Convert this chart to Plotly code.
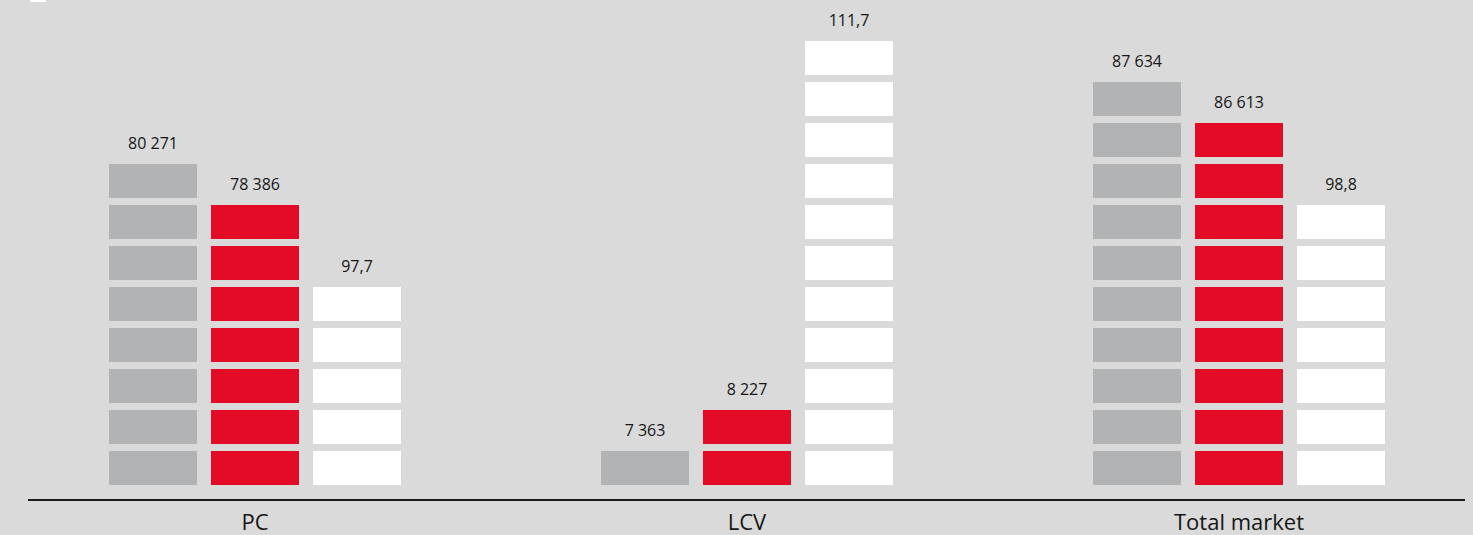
import plotly.graph_objects as go

# ---- data ----
categories = ["PC", "LCV", "Total market"]
sales_prev = [80271, 7363, 87634]          # grey bars
sales_curr = [78386, 8227, 86613]          # red bars
ratio_pct = [97.7, 111.7, 98.8]            # white bars
blocks_prev = [8, 1, 10]                   # number of stacked blocks drawn
blocks_curr = [7, 2, 9]
blocks_ratio = [5, 11, 7]
label_prev = ["80 271", "7 363", "87 634"]
label_curr = ["78 386", "8 227", "86 613"]
label_ratio = ["97,7", "111,7", "98,8"]

# ---- style ----
BG = "#d9dad9"
GREY = "#b2b3b4"
RED = "#e30b25"
WHITE = "#ffffff"
TXT = "#161616"
FONT = "Open Sans"

BASE0 = 14 / 41        # gap between axis line and first block (in block units)
BLOCK_H = 34 / 41      # block height (pitch = 1)
OFFSET = 102 / 492
WIDTH = 88 / 492
LABEL_GAP = 19 / 41

series = [
    (blocks_prev, label_prev, GREY, -OFFSET, "prev"),
    (blocks_curr, label_curr, RED, 0.0, "curr"),
    (blocks_ratio, label_ratio, WHITE, OFFSET, "ratio"),
]

fig = go.Figure()
for counts, labels, color, off, name in series:
    xs, bases = [], []
    for ci, n in enumerate(counts):
        for k in range(n):
            xs.append(ci + off)
            bases.append(BASE0 + k)
    fig.add_trace(go.Bar(
        x=xs, y=[BLOCK_H] * len(xs), base=bases, width=WIDTH,
        marker=dict(color=color, line=dict(width=0)),
        name=name, showlegend=False, hoverinfo="skip",
    ))
    fig.add_trace(go.Scatter(
        x=[ci + off for ci in range(len(counts))],
        y=[BASE0 + (n - 1) + BLOCK_H + LABEL_GAP for n in counts],
        mode="text", text=labels, textposition="middle center",
        textfont=dict(family=FONT, size=16, color=TXT),
        showlegend=False, hoverinfo="skip",
    ))

fig.update_layout(
    width=1473, height=535,
    margin=dict(l=28, r=8, t=0, b=36),
    paper_bgcolor=BG, plot_bgcolor=BG,
    barmode="overlay",
    xaxis=dict(
        range=[(28 - 255) / 492, (1465 - 255) / 492],
        tickvals=list(range(len(categories))), ticktext=categories,
        tickfont=dict(family=FONT, size=22, color=TXT),
        ticklabelstandoff=3,
        showline=True, linecolor="#1a1a1a", linewidth=1.5,
        showgrid=False, zeroline=False, ticks="", ticklen=0,
    ),
    yaxis=dict(range=[0, 499 / 41], visible=False, showgrid=False, zeroline=False),
    showlegend=False,
)

# partially visible legend at top (cut off by the page edge, as in the source)
fig.add_shape(type="rect", xref="paper", yref="paper",
              x0=(30 - 28) / 1437, x1=(46 - 28) / 1437,
              y0=(499 - 2) / 499, y1=(499 + 10) / 499,
              fillcolor=WHITE, line=dict(width=0), layer="above")
fig.add_annotation(xref="paper", yref="paper",
                   x=(60 - 28) / 1437, y=(499 + 10) / 499,
                   xanchor="left", yanchor="middle", showarrow=False,
                   text="Approximate supply of vehicles, 2023/2022, %",
                   font=dict(family=FONT, size=17, color=TXT))

fig.write_html(
    "out.html",
    config={"displayModeBar": False},
    post_script="document.body.style.margin='0';document.body.style.background='%s';" % BG,
)
